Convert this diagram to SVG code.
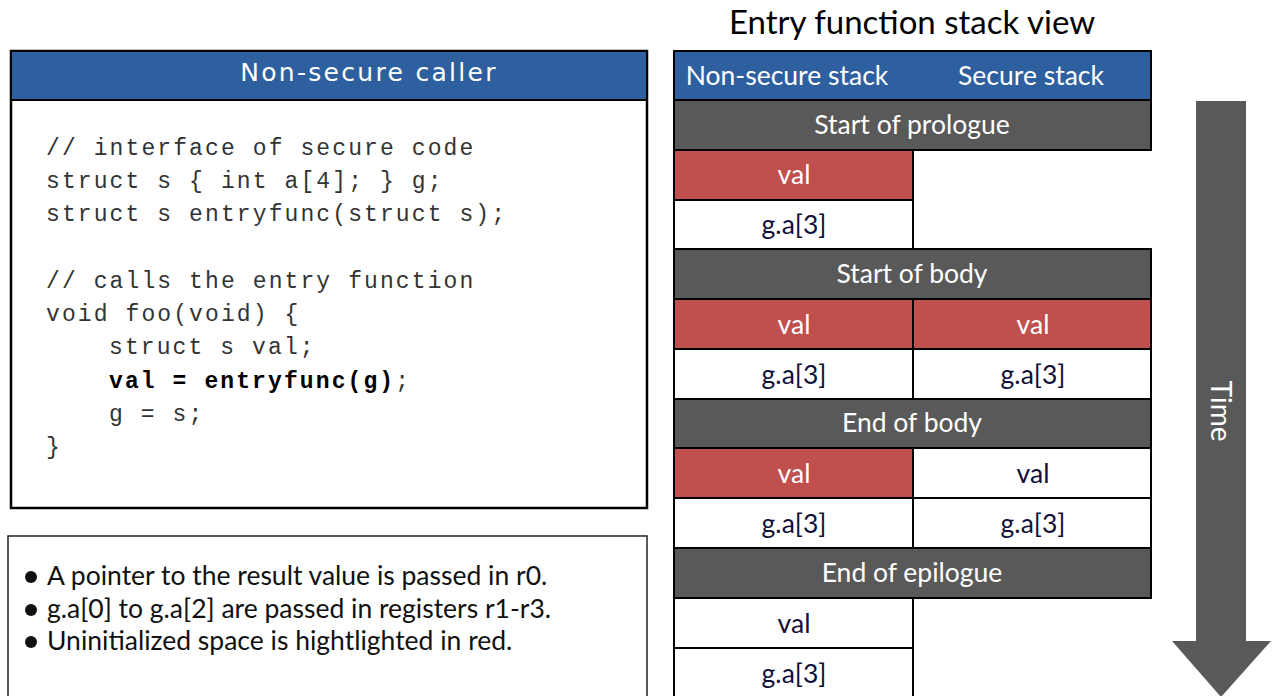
<svg xmlns="http://www.w3.org/2000/svg" width="1274" height="696" viewBox="0 0 1274 696">
<style>
.code{font-family:"Liberation Mono","Courier New",monospace;font-size:23px;letter-spacing:2.1px;fill:#333;white-space:pre}
.bold{font-weight:bold;fill:#000}
.lato{font-family:Lato,"Liberation Sans",sans-serif}
.cell{font-family:Lato,"Liberation Sans",sans-serif;font-size:26.5px;text-anchor:middle}
.w{fill:#fff}
.n{fill:#10103a}
.blue{fill:#2e60a0;stroke:#000;stroke-width:2}
.gray{fill:#595959;stroke:#000;stroke-width:2}
.red{fill:#c0504d;stroke:#000;stroke-width:2}
.white{fill:#fff;stroke:#000;stroke-width:2}
.note{font-family:Lato,"Liberation Sans",sans-serif;font-size:26.5px;fill:#111}
</style>
<rect width="1274" height="696" fill="#fff"/>

<g id="caller">
  <rect x="11" y="51" width="636" height="457" fill="#fff" stroke="#000" stroke-width="2.5"/>
  <rect x="11" y="51" width="636" height="49" class="blue" stroke-width="2.5"/>
  <text x="369" y="81" text-anchor="middle" font-family="'DejaVu Sans',sans-serif" font-size="25" letter-spacing="2.3" fill="#fff">Non-secure caller</text>
  <text class="code" x="46" y="155">// interface of secure code</text>
  <text class="code" x="46" y="188">struct s { int a[4]; } g;</text>
  <text class="code" x="46" y="221">struct s entryfunc(struct s);</text>
  <text class="code" x="46" y="288">// calls the entry function</text>
  <text class="code" x="46" y="321">void foo(void) {</text>
  <text class="code" x="109" y="354">struct s val;</text>
  <text class="code" x="109" y="388"><tspan class="bold">val = entryfunc(g)</tspan>;</text>
  <text class="code" x="109" y="421">g = s;</text>
  <text class="code" x="46" y="454">}</text>
</g>

<g id="notes">
  <rect x="8" y="536" width="639" height="175" fill="#fff" stroke="#222" stroke-width="1.5"/>
  <circle cx="31" cy="577" r="6" fill="#111"/>
  <circle cx="31" cy="610" r="6" fill="#111"/>
  <circle cx="31" cy="642" r="6" fill="#111"/>
  <text class="note" x="47" y="585">A pointer to the result value is passed in r0.</text>
  <text class="note" x="47" y="618">g.a[0] to g.a[2] are passed in registers r1-r3.</text>
  <text class="note" x="47" y="650">Uninitialized space is hightlighted in red.</text>
</g>

<g id="stack-title">
  <text x="912" y="34" text-anchor="middle" class="lato" font-size="33" fill="#000">Entry function stack view</text>
</g>

<g id="stack-header">
  <rect x="674" y="51" width="477" height="49" class="blue"/>
  <text class="cell w" x="787" y="85">Non-secure stack</text>
  <text class="cell w" x="1031" y="85">Secure stack</text>
</g>

<g id="prologue">
  <rect x="674" y="100" width="477" height="50" class="gray"/>
  <text class="cell w" x="912" y="134">Start of prologue</text>
  <rect x="674" y="150" width="239" height="50" class="red"/>
  <text class="cell w" x="794" y="184">val</text>
  <rect x="674" y="200" width="239" height="49" class="white"/>
  <text class="cell n" x="794" y="234">g.a[3]</text>
</g>

<g id="start-body">
  <rect x="674" y="249" width="477" height="50" class="gray"/>
  <text class="cell w" x="912" y="283">Start of body</text>
  <rect x="674" y="299" width="239" height="50" class="red"/>
  <text class="cell w" x="794" y="334">val</text>
  <rect x="913" y="299" width="238" height="50" class="red"/>
  <text class="cell w" x="1033" y="334">val</text>
  <rect x="674" y="349" width="239" height="50" class="white"/>
  <text class="cell n" x="794" y="384">g.a[3]</text>
  <rect x="913" y="349" width="238" height="50" class="white"/>
  <text class="cell n" x="1033" y="384">g.a[3]</text>
</g>

<g id="end-body">
  <rect x="674" y="399" width="477" height="49" class="gray"/>
  <text class="cell w" x="912" y="432">End of body</text>
  <rect x="674" y="448" width="239" height="50" class="red"/>
  <text class="cell w" x="794" y="483">val</text>
  <rect x="913" y="448" width="238" height="50" class="white"/>
  <text class="cell n" x="1033" y="483">val</text>
  <rect x="674" y="498" width="239" height="50" class="white"/>
  <text class="cell n" x="794" y="533">g.a[3]</text>
  <rect x="913" y="498" width="238" height="50" class="white"/>
  <text class="cell n" x="1033" y="533">g.a[3]</text>
</g>

<g id="end-epilogue">
  <rect x="674" y="548" width="477" height="50" class="gray"/>
  <text class="cell w" x="912" y="582">End of epilogue</text>
  <rect x="674" y="598" width="239" height="50" class="white"/>
  <text class="cell n" x="794" y="633">val</text>
  <rect x="674" y="648" width="239" height="52" class="white"/>
  <text class="cell n" x="794" y="683">g.a[3]</text>
</g>

<g id="connectors">
  <g id="time-arrow">
    <path d="M1196 101 H1246 V641 H1271 L1221 697 L1172 641 H1196 Z" fill="#595959"/>
    <text transform="translate(1211 411) rotate(90)" text-anchor="middle" class="lato" font-size="28" fill="#fff">Time</text>
  </g>
</g>
</svg>
